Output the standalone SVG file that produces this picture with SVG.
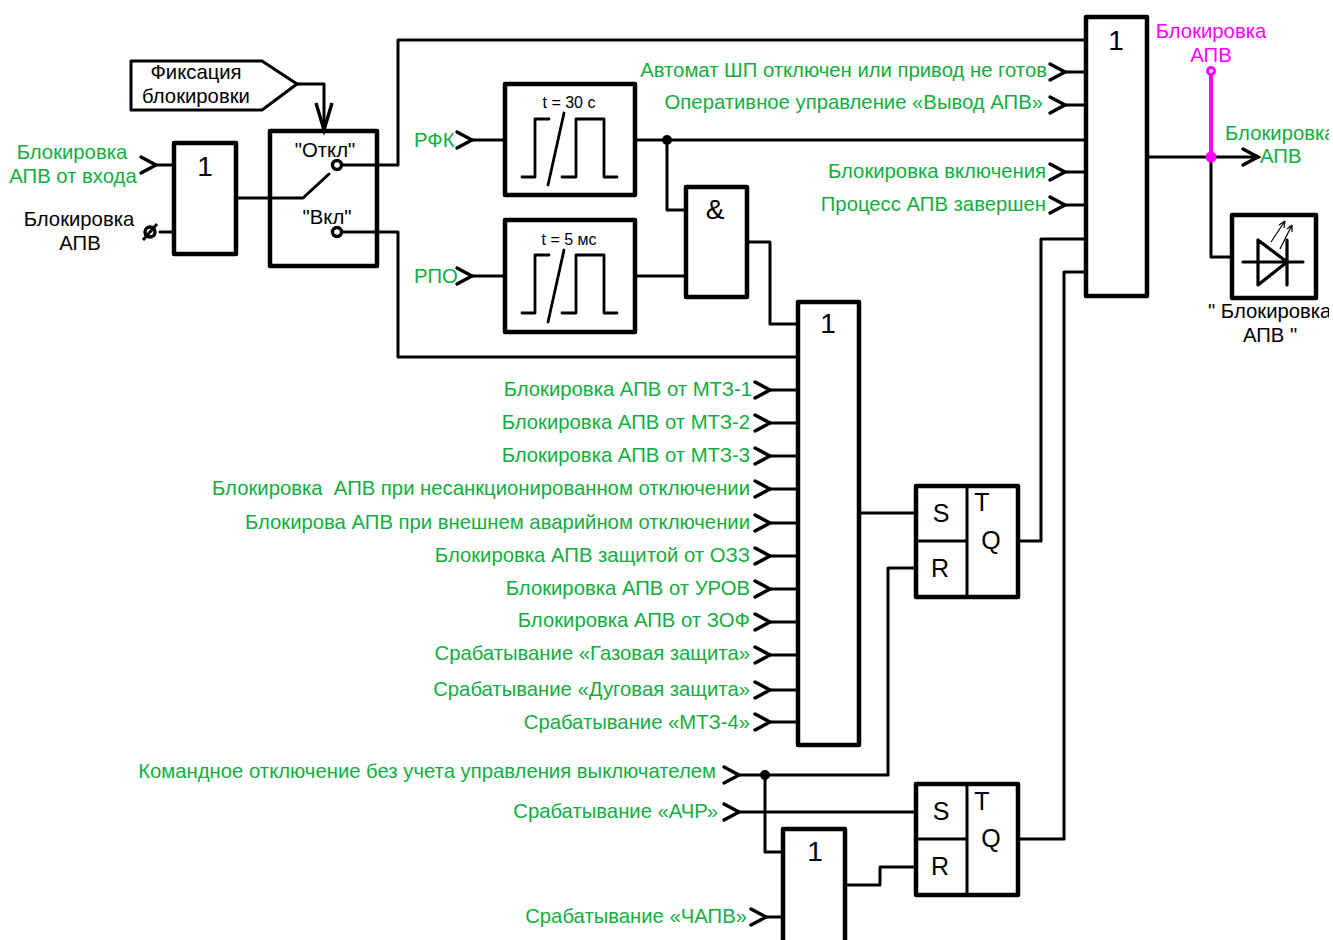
<svg xmlns="http://www.w3.org/2000/svg" width="1333" height="940" viewBox="0 0 1333 940">
<defs>
<style>
text{font-family:"Liberation Sans",Arial,sans-serif;font-size:20.3px;fill:#000}
.g{fill:#11ae3e}.e{text-anchor:end}.m{text-anchor:middle}.mg{fill:#ff00ff}
.b{fill:#fff;stroke:#000;stroke-width:4.5;stroke-linejoin:round}
.w{fill:none;stroke:#000;stroke-width:3;stroke-linejoin:round;stroke-linecap:round}
.t{fill:none;stroke:#000;stroke-width:2.8;stroke-linejoin:round;stroke-linecap:round}
.n{font-size:28px}.s{font-size:25px}
</style>
<clipPath id="page"><rect x="0" y="0" width="1329" height="940"/></clipPath>
<path id="chev" d="M-15,-8L0,0L-15,8" fill="none" stroke="#000" stroke-width="3.4" stroke-linecap="round" stroke-linejoin="miter"/>
<path id="pulse" class="t" d="M522,177H535V119H549M562,177H576V119H604V177H617"/>
</defs>
<g id="connectors">
<path class="w" d="M156,165H174M173,232H160M236,198H303L329,174"/>
<path class="w" d="M297,84H324V130"/>
<path class="w" d="M337,165H398V40H1086M337,232H398V357H798"/>
<path class="w" d="M472,140H505M472,276H505M635,140H1086M667,140V210H686M635,276H686M747,242H770V324H798"/>
<path class="w" d="M1065,72H1086M1065,105H1086M1065,172H1086M1065,205H1086M1018,541H1041V239H1086M1018,839H1064V272H1086"/>
<path class="w" d="M1147,157H1258M1211,157V257H1232"/>
<path class="w" d="M770,390H798M770,423H798M770,456H798M770,489H798M770,523H798M770,556H798M770,589H798M770,622H798M770,655H798M770,690H798M770,722H798"/>
<path class="w" d="M859,513H916M739,775H888V568H916M739,812H916M765,775V852H783M766,917H783M845,885H880V867H916"/>
<path d="M316,103L324,130L332,103" fill="none" stroke="#000" stroke-width="3.4"/>
<use href="#chev" x="156" y="165"/><use href="#chev" x="472" y="140"/><use href="#chev" x="472" y="276"/>
<use href="#chev" x="1065" y="72"/><use href="#chev" x="1065" y="105"/><use href="#chev" x="1065" y="172"/><use href="#chev" x="1065" y="205"/>
<use href="#chev" x="1258" y="157"/>
<use href="#chev" x="770" y="390"/><use href="#chev" x="770" y="423"/><use href="#chev" x="770" y="456"/><use href="#chev" x="770" y="489"/><use href="#chev" x="770" y="523"/><use href="#chev" x="770" y="556"/><use href="#chev" x="770" y="589"/><use href="#chev" x="770" y="622"/><use href="#chev" x="770" y="655"/><use href="#chev" x="770" y="690"/><use href="#chev" x="770" y="722"/>
<use href="#chev" x="739" y="775"/><use href="#chev" x="739" y="812"/><use href="#chev" x="766" y="917"/>
<circle cx="667" cy="140" r="5"/><circle cx="765" cy="775" r="5"/>
<path d="M1211,71V157" stroke="#ff00ff" stroke-width="4" fill="none"/>
<circle cx="1211" cy="157" r="5.5" fill="#ff00ff"/>
<circle cx="1211" cy="71" r="3.5" fill="#fff" stroke="#ff00ff" stroke-width="3"/>
</g>
<g id="tag-fix"><path d="M131,61H262L297,84L262,110H131Z" fill="#fff" stroke="#000" stroke-width="3" stroke-linejoin="round"/><text class="m" x="196" y="79">Фиксация</text><text class="m" x="196" y="103">блокировки</text></g>
<g id="or-input"><rect class="b" x="174" y="143" width="62" height="111"/><text class="n m" x="205" y="176">1</text></g>
<g id="switch"><rect class="b" x="270" y="131" width="107" height="135" style="fill:none"/><text class="m" x="325" y="157">"Откл"</text><text class="m" x="327" y="224">"Вкл"</text>
<circle cx="337" cy="165" r="4.5" fill="#fff" stroke="#000" stroke-width="3.4"/><circle cx="337" cy="232" r="4.5" fill="#fff" stroke="#000" stroke-width="3.4"/></g>
<g id="timer1"><rect class="b" x="505" y="84" width="130" height="111"/><text class="m" x="569" y="108" style="font-size:16px">t = 30 с</text><use href="#pulse"/><path class="t" d="M564,113L548,185"/></g>
<g id="timer2"><rect class="b" x="505" y="220" width="130" height="112"/><text class="m" x="569" y="245" style="font-size:16px">t = 5 мс</text><use href="#pulse" y="136"/><path class="t" d="M564,250L548,322"/></g>
<g id="and"><rect class="b" x="686" y="187" width="61" height="110"/><text class="n m" x="715" y="219">&amp;</text></g>
<g id="or-big"><rect class="b" x="798" y="302" width="61" height="443"/><text class="n m" x="828" y="333">1</text></g>
<g id="or-main"><rect class="b" x="1086" y="17" width="61" height="279"/><text class="n m" x="1116" y="50">1</text></g>
<g id="or-low"><rect class="b" x="783" y="829" width="62" height="120"/><text class="n m" x="815" y="861">1</text></g>
<g id="sr1"><rect class="b" x="916" y="486" width="102" height="111"/><path class="w" d="M967,486V597M916,541H967"/><text class="s m" x="941" y="522">S</text><text class="s m" x="940" y="577">R</text><text class="s m" x="982" y="511">T</text><text class="s m" x="991" y="549">Q</text></g>
<g id="sr2"><rect class="b" x="916" y="784" width="102" height="111"/><path class="w" d="M967,784V895M916,839H967"/><text class="s m" x="941" y="820">S</text><text class="s m" x="940" y="875">R</text><text class="s m" x="982" y="810">T</text><text class="s m" x="991" y="847">Q</text></g>
<g id="led"><rect class="b" x="1232" y="215" width="84" height="83"/>
<path class="t" d="M1243,262H1303M1258,240V285L1287,262ZM1287,240V285" style="stroke-width:3.2"/>
<path d="M1271,242L1285,221M1285,221L1279,225M1285,221L1284,228M1280,249L1292,225M1292,225L1287,229M1292,225L1292,232" fill="none" stroke="#000" stroke-width="1.2"/></g>
<g id="input-block"><circle cx="150" cy="232" r="5" fill="#fff" stroke="#000" stroke-width="3.4"/><path d="M143,240L157,224" stroke="#000" stroke-width="3"/></g>
<g id="labels" clip-path="url(#page)">
<text class="g m" x="72" y="159">Блокировка</text><text class="g m" x="73" y="183">АПВ от входа</text>
<text class="m" x="79" y="226">Блокировка</text><text class="m" x="80" y="250">АПВ</text>
<text class="g" x="414" y="147">РФК</text><text class="g" x="414" y="283">РПО</text>
<text class="g e" x="1047" y="77">Автомат ШП отключен или привод не готов</text>
<text class="g e" x="1043" y="109">Оперативное управление «Вывод АПВ»</text>
<text class="g e" x="1046" y="178">Блокировка включения</text>
<text class="g e" x="1046" y="211">Процесс АПВ завершен</text>
<text class="mg m" x="1211" y="38">Блокировка</text><text class="mg m" x="1211" y="62">АПВ</text>
<text class="g" x="1225" y="140">Блокировка</text><text class="g" x="1260" y="163">АПВ</text>
<text x="1208" y="318">" Блокировка</text><text class="m" x="1270" y="342">АПВ "</text>
<text class="g e" x="752" y="396">Блокировка АПВ от МТЗ-1</text>
<text class="g e" x="750" y="429">Блокировка АПВ от МТЗ-2</text>
<text class="g e" x="750" y="462">Блокировка АПВ от МТЗ-3</text>
<text class="g e" x="750" y="495" xml:space="preserve">Блокировка  АПВ при несанкционированном отключении</text>
<text class="g e" x="750" y="529">Блокирова АПВ при внешнем аварийном отключении</text>
<text class="g e" x="750" y="562">Блокировка АПВ защитой от ОЗЗ</text>
<text class="g e" x="750" y="595">Блокировка АПВ от УРОВ</text>
<text class="g e" x="750" y="627">Блокировка АПВ от ЗОФ</text>
<text class="g e" x="750" y="660">Срабатывание «Газовая защита»</text>
<text class="g e" x="750" y="696">Срабатывание «Дуговая защита»</text>
<text class="g e" x="750" y="729">Срабатывание «МТЗ-4»</text>
<text class="g e" x="716" y="778">Командное отключение без учета управления выключателем</text>
<text class="g e" x="718" y="818">Срабатывание «АЧР»</text>
<text class="g e" x="747" y="923">Срабатывание «ЧАПВ»</text>
</g>
</svg>
